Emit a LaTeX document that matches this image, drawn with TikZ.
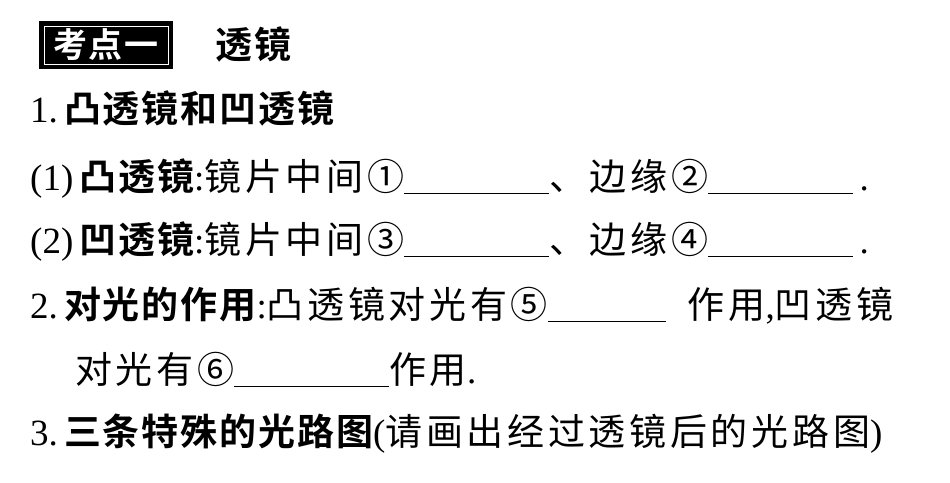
\documentclass[tikz,border=0pt]{standalone}
\usepackage{fontspec}
\setmainfont{Liberation Serif}
\newfontfamily\cjk[LetterSpace=10]{Noto Sans CJK SC}
\newfontfamily\cjkb[LetterSpace=5]{Noto Sans CJK SC Bold}
\newcommand{\blankline}[1]{\rule[-4pt]{#1}{1.3pt}}
\begin{document}
\begin{tikzpicture}[x=1pt,y=-1pt,
  txt/.style={anchor=base west,inner sep=0pt,font=\fontsize{37}{42}\selectfont}]
\useasboundingbox (0,0) rectangle (950,482);
% header box
\node[draw=black,line width=1.5pt,fill=black,minimum width=132pt,minimum height=46pt,inner sep=0pt] (hb) at (106,45) {};
\node[draw=white,line width=1pt,minimum width=124pt,minimum height=38pt,inner sep=0pt] (hbi) at (106,45) {};
\node[txt,text=white,anchor=center,font=\fontsize{34}{40}\selectfont] (h1) at (106,45) {\cjkb 考点一};
\node[txt] (h2) at (215,58) {\cjkb 透镜};
\node[txt] (l1) at (30,122) {1.\,{\cjkb 凸透镜和凹透镜}};
\node[txt] (l2) at (30,190) {(1)\,{\cjkb 凸透镜}:{\cjk 镜片中间①}\blankline{145pt}{\cjk 、边缘②}\blankline{145pt}\,.};
\node[txt] (l3) at (30,253) {(2)\,{\cjkb 凹透镜}:{\cjk 镜片中间③}\blankline{145pt}{\cjk 、边缘④}\blankline{145pt}\,.};
\node[txt] (l4) at (30,318) {2.\,{\cjkb 对光的作用}:{\cjk 凸透镜对光有⑤}\blankline{118pt}\hspace{22pt}{\cjk 作用},{\cjk 凹透镜}};
\node[txt] (l5) at (75,383) {{\cjk 对光有⑥}\blankline{155pt}{\cjk 作用}.};
\node[txt] (l6) at (30,445) {3.\,{\cjkb 三条特殊的光路图}({\cjk 请画出经过透镜后的光路图})};
\end{tikzpicture}
\end{document}
